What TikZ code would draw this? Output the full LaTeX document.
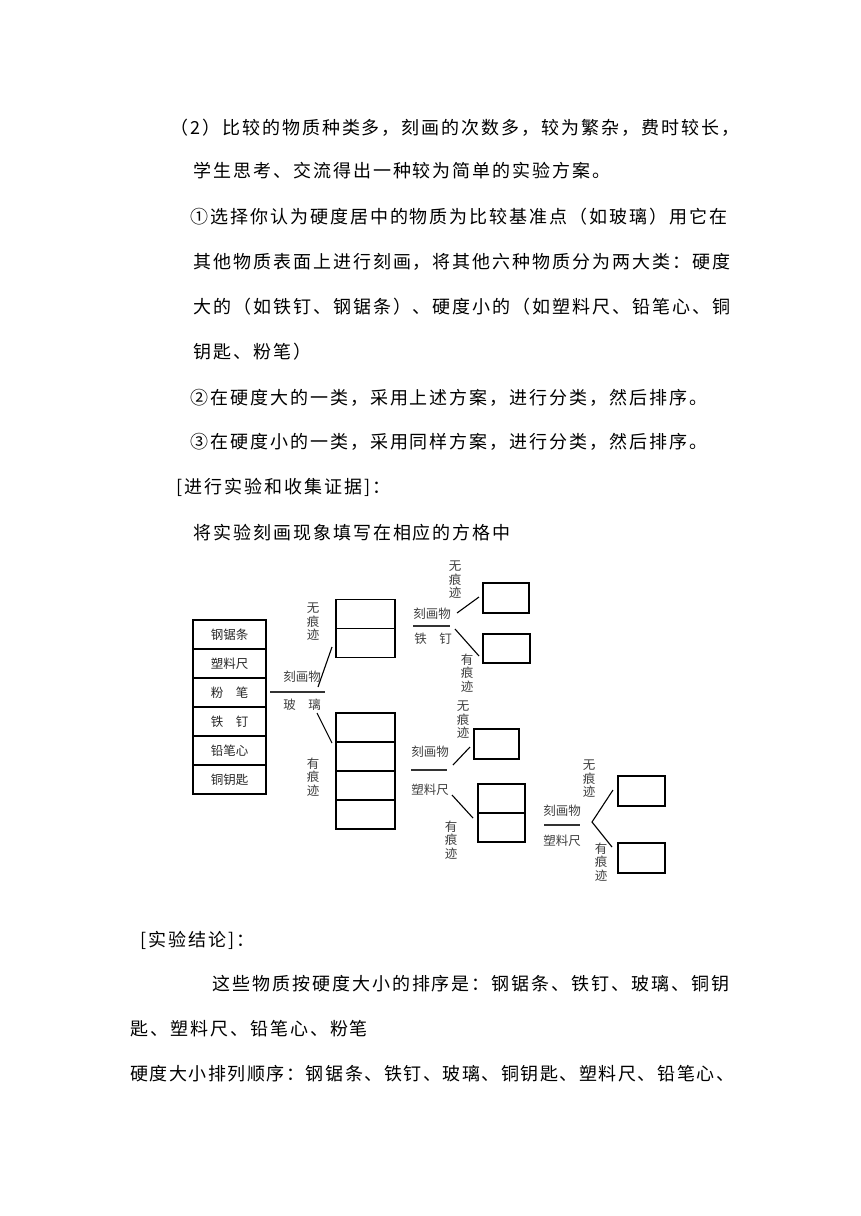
\documentclass[tikz,border=0pt]{standalone}
\usepackage{fontspec}
\newfontfamily\cjk{Noto Sans CJK SC}[LetterSpace=11]
\newfontfamily\cjknarrow{Noto Sans CJK SC}[LetterSpace=8.5]
\newfontfamily\cjklab{Noto Sans CJK SC}
\usetikzlibrary{positioning}

\begin{document}
\begin{tikzpicture}[x=1pt,y=-1pt,
  body/.style={anchor=west,inner sep=0,font=\cjk\fontsize{18}{18}\selectfont},
  cell/.style={draw,line width=1.5,minimum width=73,minimum height=29,inner sep=0,
    font=\cjklab\fontsize{12.5}{12.5}\selectfont,text=black!85},
  box/.style={draw,line width=1.6,inner sep=0},
  lab/.style={inner sep=0,font=\cjklab\fontsize{12.5}{12.5}\selectfont,text=black!75},
  vlab/.style={lab,align=center,font=\cjklab\fontsize{12.5}{13.5}\selectfont},
  bar/.style={line width=1.1,black!80},
  link/.style={line width=1.1}]
  \fill[white] (0,0) rectangle (860,1216);
  \useasboundingbox (0,0) rectangle (860,1216);

  \node[body] (l1) at (170,128) {（2）比较的物质种类多，刻画的次数多，较为繁杂，费时较长，};
  \node[body] (l2) at (193,171) {学生思考、交流得出一种较为简单的实验方案。};
  \node[body] (l3) at (190,217) {①选择你认为硬度居中的物质为比较基准点（如玻璃）用它在};
  \node[body] (l4) at (193,262) {其他物质表面上进行刻画，将其他六种物质分为两大类：硬度};
  \node[body] (l5) at (193,307) {大的（如铁钉、钢锯条）、硬度小的（如塑料尺、铅笔心、铜};
  \node[body] (l6) at (193,352) {钥匙、粉笔）};
  \node[body] (l7) at (190,398) {②在硬度大的一类，采用上述方案，进行分类，然后排序。};
  \node[body] (l8) at (190,442) {③在硬度小的一类，采用同样方案，进行分类，然后排序。};
  \node[body] (l9) at (176,487) {[进行实验和收集证据]：};
  \node[body] (l10) at (193,533) {将实验刻画现象填写在相应的方格中};

  % left list of materials
  \foreach \t [count=\i] in {钢锯条,塑料尺,粉　笔,铁　钉,铅笔心,铜钥匙}
    \node[cell] (m\i) at (229.5,{605.5+29*\i}) {\t};

  % glass as the scratching object
  \draw[bar] (270,692) -- (325,692);
  \node[lab] (gk) at (302,677) {刻画物};
  \node[lab] (gn) at (302,705) {玻　璃};
  \node[vlab] (gno) at (313,622) {无\\痕\\迹};
  \node[vlab] (gyes) at (313,777) {有\\痕\\迹};
  \node[box,minimum width=59,minimum height=29] (ga1) at (365.5,614) {};
  \node[box,minimum width=59,minimum height=29] (ga2) at (365.5,643) {};
  \foreach \i in {1,...,4}
    \node[box,minimum width=59,minimum height=29] (gb\i) at (365.5,{698.5+29*\i}) {};
  \coordinate (g1) at (318,687);
  \coordinate (g1e) at (332,647);
  \coordinate (g2) at (317,713);
  \coordinate (g2e) at (332,743);
  \draw[link] (g1) -- (g1e);
  \draw[link] (g2) -- (g2e);

  % iron nail
  \draw[bar] (413,626) -- (450,626);
  \node[lab] (ik) at (432,614) {刻画物};
  \node[lab] (in) at (433,639) {铁　钉};
  \node[vlab] (ino) at (455,580) {无\\痕\\迹};
  \node[vlab] (iyes) at (467,673) {有\\痕\\迹};
  \node[box,minimum width=46,minimum height=30] (ia) at (506,598) {};
  \node[box,minimum width=47,minimum height=29] (ib) at (506.5,648.5) {};
  \coordinate (i1) at (457,613);
  \coordinate (i1e) at (479,597);
  \coordinate (i2) at (455,629);
  \coordinate (i2e) at (479,656);
  \draw[link] (i1) -- (i1e);
  \draw[link] (i2) -- (i2e);

  % plastic ruler
  \draw[bar] (411,770) -- (447,770);
  \node[lab] (pk) at (430,752) {刻画物};
  \node[lab] (pn) at (430,790) {塑料尺};
  \node[vlab] (pno) at (463,720) {无\\痕\\迹};
  \node[vlab] (pyes) at (451,840) {有\\痕\\迹};
  \node[box,minimum width=45,minimum height=30] (pa) at (496.5,744) {};
  \node[box,minimum width=47,minimum height=29] (pb1) at (501.5,798.5) {};
  \node[box,minimum width=47,minimum height=29] (pb2) at (501.5,827.5) {};
  \coordinate (p1) at (453,765);
  \coordinate (p1e) at (470,747);
  \coordinate (p2) at (452,795);
  \coordinate (p2e) at (473,818);
  \draw[link] (p1) -- (p1e);
  \draw[link] (p2) -- (p2e);

  % plastic ruler, second step
  \draw[bar] (544,825) -- (580,825);
  \node[lab] (qk) at (562,811) {刻画物};
  \node[lab] (qn) at (562,841) {塑料尺};
  \node[vlab] (qno) at (589,779) {无\\痕\\迹};
  \node[vlab] (qyes) at (601,862) {有\\痕\\迹};
  \node[box,minimum width=47,minimum height=30] (qa) at (641.5,791) {};
  \node[box,minimum width=47,minimum height=30] (qb) at (641.5,858) {};
  \coordinate (q0) at (592,822);
  \coordinate (q1e) at (613,790);
  \coordinate (q2e) at (612,847);
  \draw[link] (q1e) -- (q0) -- (q2e);

  \node[body] (l11) at (140,940) {[实验结论]：};
  \node[body] (l12) at (212,984) {这些物质按硬度大小的排序是：钢锯条、铁钉、玻璃、铜钥};
  \node[body] (l13) at (130,1029) {匙、塑料尺、铅笔心、粉笔};
  \node[body,font=\cjknarrow\fontsize{18}{18}\selectfont] (l14) at (130,1074) {硬度大小排列顺序：钢锯条、铁钉、玻璃、铜钥匙、塑料尺、铅笔心、};
\end{tikzpicture}
\end{document}
